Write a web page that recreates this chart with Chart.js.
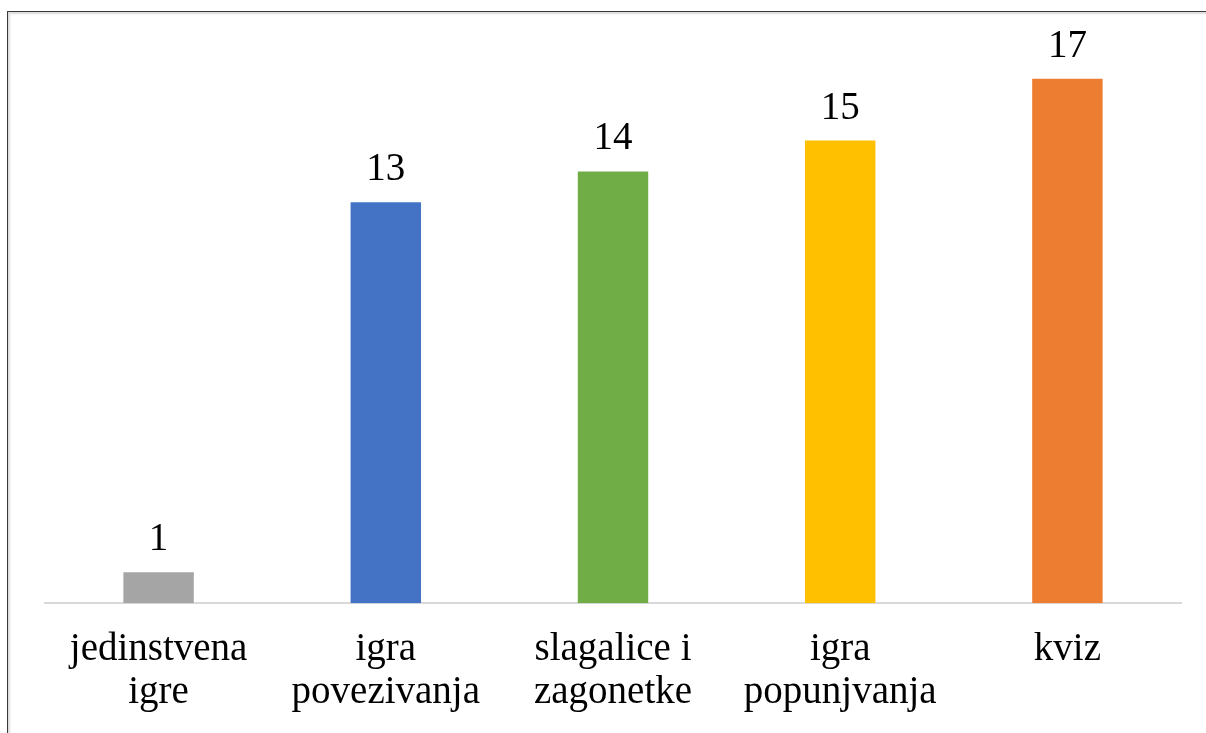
<!DOCTYPE html>
<html>
<head>
<meta charset="utf-8">
<script src="https://cdn.jsdelivr.net/npm/chart.js@4/dist/chart.umd.min.js"></script>
<style>
  html, body { margin: 0; padding: 0; background: #fff; overflow: hidden; }
  #wrap { position: relative; width: 1206px; height: 733px; overflow: hidden; }
  #frame {
    position: absolute; left: 7px; top: 11px; width: 1300px; height: 800px;
    border-left: 1px solid #3a3a3a; border-top: 1px solid #3a3a3a;
    box-shadow: inset 2px 2px 2px #dcdcdc;
  }
  canvas { position: absolute; left: 0; top: 0; }
</style>
</head>
<body>
<div id="wrap">
  <div id="frame"></div>
  <canvas id="chart" width="1206" height="759"></canvas>
</div>
<script>
// categories (multi-line labels) and counts
const categories = [
  ["jedinstvena", "igre"],
  ["igra", "povezivanja"],
  ["slagalice i", "zagonetke"],
  ["igra", "popunjvanja"],
  ["kviz"]
];
const counts = [1, 13, 14, 15, 17];
const barColors = ["#a5a5a5", "#4472c4", "#70ad47", "#ffc000", "#ed7d31"];

const FONT = "'Liberation Serif', 'Times New Roman', serif";

// value labels above each bar
const valueLabels = {
  id: "valueLabels",
  afterDatasetsDraw(chart) {
    const ctx = chart.ctx;
    const meta = chart.getDatasetMeta(0);
    ctx.save();
    ctx.font = "39px " + FONT;
    ctx.fillStyle = "#000";
    ctx.textAlign = "center";
    ctx.textBaseline = "alphabetic";
    meta.data.forEach((bar, i) => {
      ctx.fillText(String(counts[i]), bar.x, bar.y - 22);
    });
    ctx.restore();
  }
};

new Chart(document.getElementById("chart"), {
  type: "bar",
  data: {
    labels: categories,
    datasets: [{
      data: counts,
      backgroundColor: barColors,
      borderWidth: 0,
      categoryPercentage: 1,
      barPercentage: 0.31
    }]
  },
  options: {
    responsive: false,
    animation: false,
    layout: { padding: { left: 45, right: 25, top: 48, bottom: 20 } },
    plugins: { legend: { display: false }, tooltip: { enabled: false } },
    scales: {
      x: {
        grid: { display: false, drawTicks: false },
        border: { display: true, color: "#d9d9d9", width: 2 },
        ticks: {
          color: "#000",
          padding: 25,
          maxRotation: 0,
          autoSkip: false,
          font: { family: FONT, size: 39, lineHeight: 1.1 }
        }
      },
      y: {
        display: false,
        min: 0,
        max: 18
      }
    }
  },
  plugins: [valueLabels]
});
</script>
</body>
</html>
